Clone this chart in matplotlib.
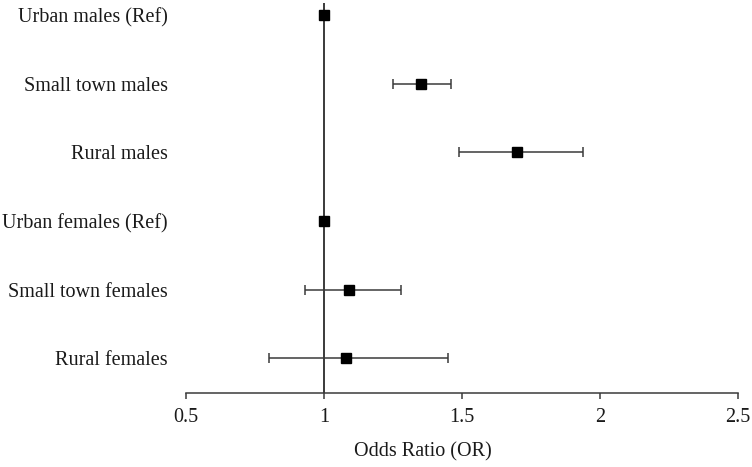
import numpy as np
import matplotlib.pyplot as plt

plt.rcParams['font.family'] = ['Liberation Serif', 'DejaVu Serif']

# forest plot data: odds ratio with 95% CI
groups = ['Urban males (Ref)', 'Small town males', 'Rural males',
          'Urban females (Ref)', 'Small town females', 'Rural females']
odds_ratio = [1.00, 1.35, 1.70, 1.00, 1.09, 1.08]
ci_low = [1.00, 1.25, 1.49, 1.00, 0.93, 0.80]
ci_high = [1.00, 1.46, 1.94, 1.00, 1.28, 1.45]

x_ticks = [0.5, 1, 1.5, 2, 2.5]
x_ticklabels = ['0.5', '1', '1.5', '2', '2.5']

fig = plt.figure(figsize=(7.52, 4.67), dpi=100)
ax = fig.add_axes([186 / 752, 74.5 / 467, 552 / 752, 389.5 / 467])

ypos = np.arange(len(groups))[::-1] + 0.5
or_arr = np.array(odds_ratio)
err = [or_arr - np.array(ci_low), np.array(ci_high) - or_arr]

# reference line at OR = 1
ax.axvline(1, color='#3a3a3a', lw=1.4, zorder=1)

ax.errorbar(or_arr, ypos, xerr=err, fmt='none', ecolor='#3a3a3a',
            elinewidth=1.1, capsize=3.5, capthick=1.1, zorder=2)
ax.plot(or_arr, ypos, 's', color='black', markersize=7.2, zorder=3)

ax.set_xlim(0.5, 2.5)
ax.set_ylim(0, 389.5 / 68.6)
ax.set_xticks(x_ticks)
ax.set_xticklabels(x_ticklabels)
ax.set_yticks(ypos)
ax.set_yticklabels(groups)

for s in ['top', 'right', 'left']:
    ax.spines[s].set_visible(False)
ax.spines['bottom'].set_color('#3a3a3a')
ax.spines['bottom'].set_linewidth(1.1)

ax.tick_params(axis='x', direction='out', length=4, width=1.1, color='#3a3a3a',
               labelsize=14.5, pad=7, labelcolor='#1a1a1a')
ax.tick_params(axis='y', length=0, labelsize=14.5, pad=13, labelcolor='#1a1a1a')

fig.text(423 / 752, 1 - 452 / 467, 'Odds Ratio (OR)', ha='center', va='center',
         fontsize=14.5, color='#1a1a1a')

fig.savefig('out.png', dpi=100)
